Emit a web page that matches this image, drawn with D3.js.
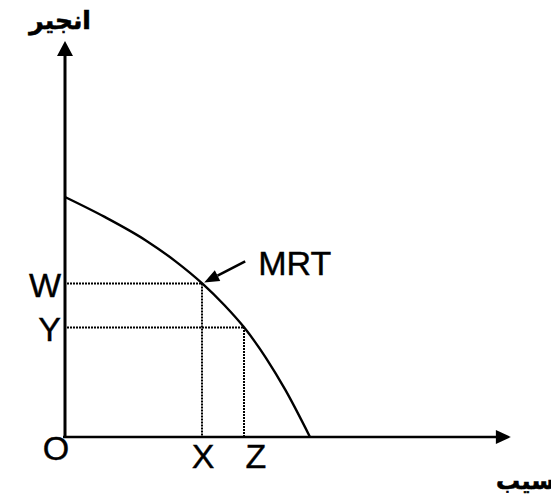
<!DOCTYPE html>
<html>
<head>
<meta charset="utf-8">
<script src="https://cdn.jsdelivr.net/npm/d3@7"></script>
<style>
  body { margin: 0; background: #fff; }
  svg { display: block; }
</style>
</head>
<body>
<div id="chart"></div>
<script>
// transformation curve (O = 0, intercepts = 10)
const curveX = [0, 1.6, 3.3, 4.5, 5.6, 6.5, 7.3, 8.2, 9.0, 10];
const curveY = [10, 9.18, 8.19, 7.33, 6.4, 5.5, 4.58, 3.3, 1.95, 0];

// the two marked points on the curve
const guideX = [5.6, 7.3];
const guideY = [6.4, 4.58];
const guideXLabels = ["X", "Z"];
const guideYLabels = ["W", "Y"];

const axisEnds = [18.2, 16.5];   // how far each axis arrow reaches
const originLabel = "O";
const curveLabel = "MRT";
const yTitle = "انجير";
const xTitle = "سيب";

const width = 551,
  height = 498;

const svg = d3.select("#chart")
  .append("svg")
  .attr("width", width)
  .attr("height", height);

const x = d3.scaleLinear().domain([0, 10]).range([65, 310]);
const y = d3.scaleLinear().domain([0, 10]).range([437, 197]);

const latin = "'Liberation Sans', Arial, sans-serif";
const arabic = "'DejaVu Sans', sans-serif";

// dotted guides
const guides = svg.append("g")
  .attr("stroke", "#000")
  .attr("stroke-width", 2)
  .attr("stroke-dasharray", "2,1");

guides.selectAll("line.h")
  .data(guideX)
  .join("line")
  .attr("class", "h")
  .attr("x1", x(0) + 2)
  .attr("x2", d => x(d))
  .attr("y1", (d, i) => Math.round(y(guideY[i])) + 0.5)
  .attr("y2", (d, i) => Math.round(y(guideY[i])) + 0.5);

guides.selectAll("line.v")
  .data(guideX)
  .join("line")
  .attr("class", "v")
  .attr("x1", d => Math.round(x(d)))
  .attr("x2", d => Math.round(x(d)))
  .attr("y1", (d, i) => y(guideY[i]))
  .attr("y2", y(0) - 1);

// axes with arrowheads
svg.append("line")
  .attr("x1", x(0)).attr("y1", y(0))
  .attr("x2", x(0)).attr("y2", y(axisEnds[1]) + 10)
  .attr("stroke", "#000").attr("stroke-width", 3);

svg.append("line")
  .attr("x1", x(0) - 2).attr("y1", y(0))
  .attr("x2", x(axisEnds[0]) - 10).attr("y2", y(0))
  .attr("stroke", "#000").attr("stroke-width", 2.6);

const yTip = [x(0), y(axisEnds[1])];
svg.append("path")
  .attr("d", `M${yTip[0]},${yTip[1]} L${yTip[0] - 8},${yTip[1] + 15} L${yTip[0] + 8},${yTip[1] + 15} Z`)
  .attr("fill", "#000");

const xTip = [x(axisEnds[0]), y(0)];
svg.append("path")
  .attr("d", `M${xTip[0]},${xTip[1]} L${xTip[0] - 15},${xTip[1] - 7} L${xTip[0] - 15},${xTip[1] + 7} Z`)
  .attr("fill", "#000");

// the curve
const line = d3.line()
  .x((d, i) => x(curveX[i]))
  .y(d => y(d))
  .curve(d3.curveMonotoneX);

svg.append("path")
  .datum(curveY)
  .attr("d", line)
  .attr("fill", "none")
  .attr("stroke", "#000")
  .attr("stroke-width", 2.4);

// MRT pointer
const tip = [x(guideX[0]) + 2, y(guideY[0]) - 1];
const tail = [tip[0] + 41, tip[1] - 21];
const ang = Math.atan2(tip[1] - tail[1], tip[0] - tail[0]);
const headLen = 15, headW = 6;
const bx = tip[0] - headLen * Math.cos(ang), by = tip[1] - headLen * Math.sin(ang);

svg.append("line")
  .attr("x1", tail[0]).attr("y1", tail[1])
  .attr("x2", bx).attr("y2", by)
  .attr("stroke", "#000").attr("stroke-width", 2.6);

svg.append("path")
  .attr("d", `M${tip[0]},${tip[1]}
    L${bx - headW * Math.sin(ang)},${by + headW * Math.cos(ang)}
    L${bx + headW * Math.sin(ang)},${by - headW * Math.cos(ang)} Z`)
  .attr("fill", "#000");

const letters = svg.append("g")
  .attr("font-family", latin)
  .attr("font-size", 34)
  .attr("stroke", "#000")
  .attr("stroke-width", 0.4);

letters.append("text")
  .attr("x", tail[0] + 13)
  .attr("y", 275)
  .text(curveLabel);

// point labels
letters.selectAll("text.ylab")
  .data(guideYLabels)
  .join("text")
  .attr("class", "ylab")
  .attr("x", x(0) - 4)
  .attr("y", (d, i) => y(guideY[i]) + 14)
  .attr("text-anchor", "end")
  .text(d => d);

letters.selectAll("text.xlab")
  .data(guideXLabels)
  .join("text")
  .attr("class", "xlab")
  .attr("x", (d, i) => x(guideX[i]) + (i ? 12 : 1))
  .attr("y", y(0) + 31)
  .attr("text-anchor", "middle")
  .text(d => d);

letters.append("text")
  .attr("x", x(0) - 9)
  .attr("y", y(0) + 23)
  .attr("text-anchor", "middle")
  .text(originLabel);

// axis titles
svg.append("text")
  .attr("x", 60)
  .attr("y", 29)
  .attr("text-anchor", "middle")
  .attr("font-family", arabic)
  .attr("font-weight", "bold")
  .attr("font-size", 25)
  .attr("stroke", "#000")
  .attr("stroke-width", 0.6)
  .text(yTitle);

svg.append("text")
  .attr("x", 496)
  .attr("y", 489)
  .attr("text-anchor", "start")
  .attr("font-family", arabic)
  .attr("font-weight", "bold")
  .attr("font-size", 24)
  .attr("stroke", "#000")
  .attr("stroke-width", 0.6)
  .text(xTitle);
</script>
</body>
</html>
